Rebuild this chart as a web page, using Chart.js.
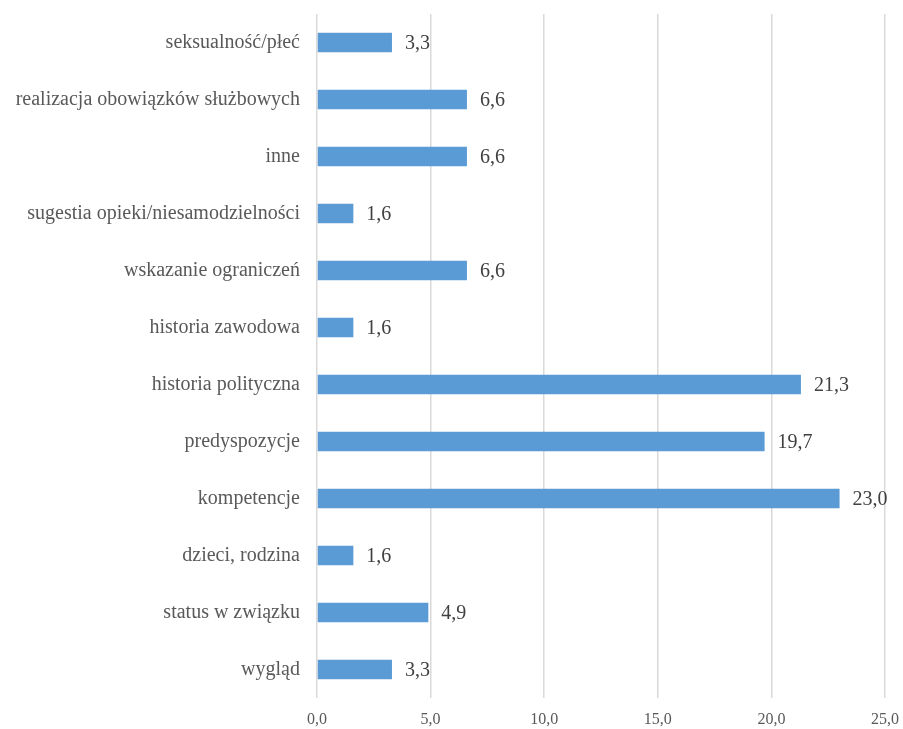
<!DOCTYPE html>
<html>
<head>
<meta charset="utf-8">
<script src="https://cdn.jsdelivr.net/npm/chart.js@4/dist/chart.umd.min.js"></script>
<style>
  html, body { margin: 0; padding: 0; background: #fff; }
  #wrap { width: 903px; height: 729px; }
</style>
</head>
<body>
<div id="wrap"><canvas id="chart" width="903" height="729"></canvas></div>
<script>
// categories, top to bottom
const categories = [
  'seksualność/płeć',
  'realizacja obowiązków służbowych',
  'inne',
  'sugestia opieki/niesamodzielności',
  'wskazanie ograniczeń',
  'historia zawodowa',
  'historia polityczna',
  'predyspozycje',
  'kompetencje',
  'dzieci, rodzina',
  'status w związku',
  'wygląd'
];
const values = [3.3, 6.6, 6.6, 1.6, 6.6, 1.6, 21.3, 19.7, 23.0, 1.6, 4.9, 3.3];
const xTicks = [0, 5, 10, 15, 20, 25];

const SERIF = '"Liberation Serif", "Times New Roman", serif';
const fmt = v => v.toFixed(1).replace('.', ',');

// value labels to the right of each bar
const barLabels = {
  id: 'barLabels',
  afterDatasetsDraw(chart) {
    const ctx = chart.ctx;
    const meta = chart.getDatasetMeta(0);
    ctx.save();
    ctx.font = '20px ' + SERIF;
    ctx.fillStyle = '#404040';
    ctx.textAlign = 'left';
    ctx.textBaseline = 'middle';
    meta.data.forEach((bar, i) => {
      ctx.fillText(fmt(values[i]), bar.x + 13, bar.y + 1);
    });
    ctx.restore();
  }
};

new Chart(document.getElementById('chart'), {
  type: 'bar',
  data: {
    labels: categories,
    datasets: [{
      data: values,
      backgroundColor: '#5B9BD5',
      borderWidth: 0,
      categoryPercentage: 1,
      barPercentage: 0.345
    }]
  },
  options: {
    indexAxis: 'y',
    responsive: false,
    animation: false,
    layout: { padding: { top: 14, right: 18, bottom: 0, left: 0 } },
    plugins: {
      legend: { display: false },
      tooltip: { enabled: false }
    },
    scales: {
      x: {
        min: 0,
        max: 25,
        afterBuildTicks: s => { s.ticks = xTicks.map(v => ({ value: v })); },
        afterFit: s => {
          s.height = 31;
          s.paddingLeft = 0;
          s.paddingRight = 0;
        },
        grid: { color: '#d9d9d9', lineWidth: 1.5, drawTicks: false },
        border: { display: false },
        ticks: {
          color: '#595959',
          font: { family: SERIF, size: 16 },
          padding: 12,
          callback: v => fmt(v)
        }
      },
      y: {
        afterFit: s => {
          s.width = 317;
          s.paddingTop = 0;
          s.paddingBottom = 0;
        },
        grid: { display: false },
        border: { display: false },
        ticks: {
          color: '#595959',
          font: { family: SERIF, size: 20 },
          padding: 9
        }
      }
    }
  },
  plugins: [barLabels]
});
</script>
</body>
</html>
